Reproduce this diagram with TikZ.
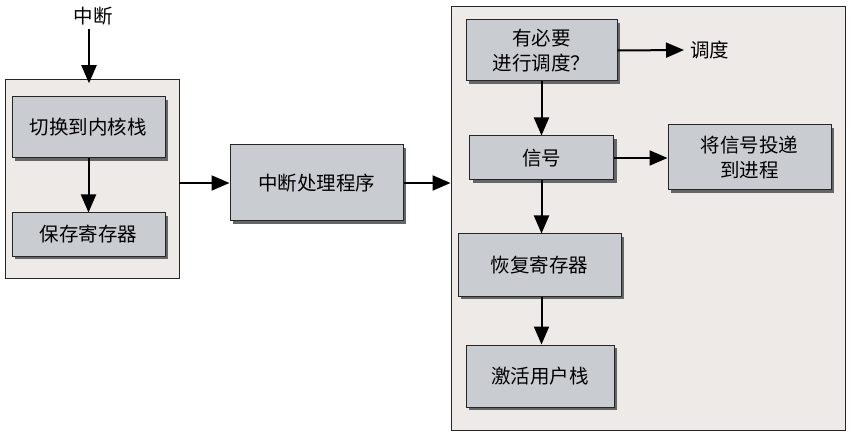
\documentclass[tikz,border=0pt]{standalone}
\usepackage{fontspec}
\setmainfont{Noto Sans CJK SC}
\usetikzlibrary{arrows.meta,shadows}
\definecolor{contfill}{HTML}{EDEAE8}
\definecolor{boxfill}{HTML}{C9CDD2}
\definecolor{shadowc}{HTML}{666666}
\begin{document}
\begin{tikzpicture}[x=1pt,y=-1pt,
  cont/.style={draw=black!85, line width=0.9pt, fill=contfill, inner sep=0pt},
  box/.style={draw=black!85, line width=1pt, fill=boxfill, inner sep=0pt, align=center,
     font=\fontsize{19.5}{25}\selectfont,
     drop shadow={shadow xshift=3pt, shadow yshift=-3pt, fill=shadowc, opacity=1}},
  lbl/.style={font=\fontsize{19.5}{25}\selectfont, inner sep=0pt},
  arr/.style={line width=2pt, -{Triangle[length=18pt,width=15pt]}}]
\useasboundingbox (0,0) rectangle (855,441);
% containers
\node[cont, minimum width=174, minimum height=199] (L) at (92,178.5) {};
\node[cont, minimum width=394, minimum height=424] (R) at (648,218) {};
% left boxes
\node[box, minimum width=153, minimum height=61] (k) at (88.5,127.5) {切换到内核栈};
\node[box, minimum width=153, minimum height=43] (s) at (88.5,234.5) {保存寄存器};
% middle
\node[box, minimum width=173, minimum height=76] (h) at (316.5,183) {中断处理程序};
% right boxes
\node[box, minimum width=151, minimum height=61] (q) at (541.5,50.5) {有必要\\进行调度？};
\node[box, minimum width=144, minimum height=44] (sig) at (541.5,158) {信号};
\node[box, minimum width=163, minimum height=65] (d) at (749.5,157.5) {将信号投递\\到进程};
\node[box, minimum width=163, minimum height=62] (r) at (539.5,265) {恢复寄存器};
\node[box, minimum width=148, minimum height=62] (u) at (540,376) {激活用户栈};
% labels
\node[lbl] (int) at (93,16) {中断};
\node[lbl, anchor=west] (sch) at (690,50) {调度};
% connectors
\draw[arr] (int.south) ++(-4,4) -- ++(0,54);
\draw[arr] (k.south) -- (s.north);
\draw[arr] (L.east |- h.west) -- (h.west);
\draw[arr] (h.east) -- (R.west |- h.east);
\draw[arr] (q.east) -- ([xshift=-6pt]sch.west);
\draw[arr] (q.south) -- (sig.north);
\draw[arr] (sig.east) -- (d.west |- sig.east);
\draw[arr] (sig.south) -- (r.north -| sig.south);
\draw[arr] (r.south -| sig.south) -- (u.north -| sig.south);
\end{tikzpicture}
\end{document}
